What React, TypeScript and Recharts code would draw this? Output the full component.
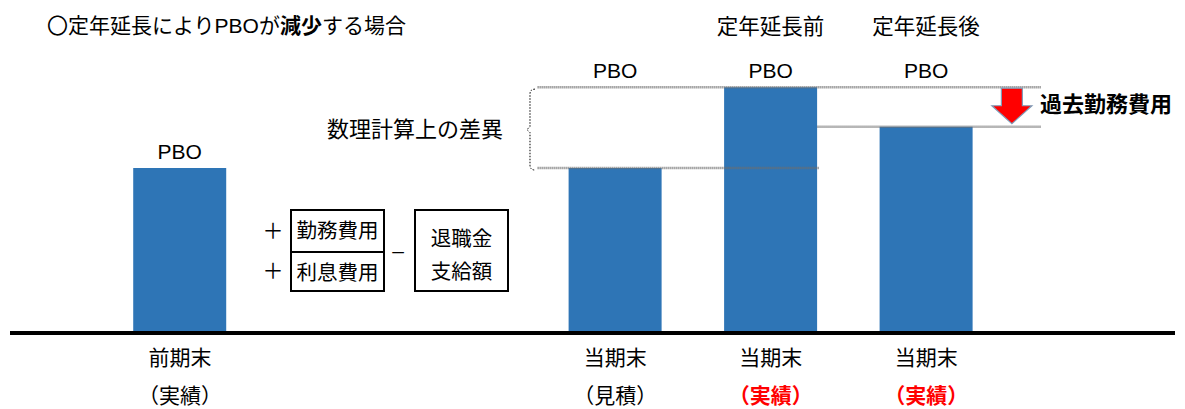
import React from 'react';
import { BarChart, Bar, XAxis, YAxis, LabelList, ReferenceLine } from 'recharts';

// categories (x axis)
const periods = ['前期末', '当期末', '当期末', '当期末'];
const notes = ['（実績）', '（見積）', '（実績）', '（実績）'];
const headers = ['', '', '定年延長前', '定年延長後'];
// numeric x position of each category (gap between 前期末 and 当期末)
const axisPos = [0, 2.8, 3.8, 4.8];
// PBO size (relative units)
const pbo = [100, 100, 149, 125];

const data = periods.map((p, i) => ({ name: p, pos: axisPos[i], pbo: pbo[i] }));

const FONT = '"Liberation Sans", "Noto Sans CJK JP", sans-serif';
const BLUE = '#2E75B6';

const PboLabel = (props: any) => {
  const vb = props.viewBox ?? props;
  const x = vb.x ?? props.x;
  const y = vb.y ?? props.y;
  const width = vb.width ?? props.width;
  const height = vb.height ?? props.height;
  const index = props.index;
  const value = pbo[index];
  const perUnit = height / value;
  const base = y + height;
  const level = index === 0 ? value : Math.max(...pbo.slice(1));
  const ly = base - level * perUnit - 17;
  const cx = x + width / 2;
  return (
    <g fontFamily={FONT}>
      <text x={cx} y={ly} textAnchor="middle" dominantBaseline="central" fontSize={21} fill="#000">PBO</text>
      {headers[index] ? (
        <text x={cx} y={ly - 43} textAnchor="middle" dominantBaseline="central" fontSize={21.5} fill="#000">{headers[index]}</text>
      ) : null}
    </g>
  );
};

const PeriodTick = (props: any) => {
  const { x, y, payload } = props;
  const i = axisPos.indexOf(payload.value);
  if (i < 0) return null;
  const red = headers[i] !== '';
  return (
    <g fontFamily={FONT}>
      <text x={x} y={y + 24} textAnchor="middle" dominantBaseline="central" fontSize={21} fill="#000">{periods[i]}</text>
      <text x={x} y={y + 62} textAnchor="middle" dominantBaseline="central" fontSize={21}
        fill={red ? '#FF0000' : '#000'} fontWeight={red ? 700 : 400}>{notes[i]}</text>
    </g>
  );
};

const Bracket = (props: any) => {
  const { x1, y1, y2 } = props;
  const top = y1 + 2;
  const bot = y2 + 2;
  const mid = (top + bot) / 2;
  const d = `M ${x1 + 5} ${top} Q ${x1} ${top} ${x1} ${top + 5} L ${x1} ${mid - 3} L ${x1 - 3} ${mid} L ${x1} ${mid + 3} L ${x1} ${bot - 5} Q ${x1} ${bot} ${x1 + 5} ${bot}`;
  return (
    <g>
      <path d={d} fill="none" stroke="#000" strokeWidth={1} strokeDasharray="1.5 1.5" />
      <text x={x1 - 27} y={mid} textAnchor="end" dominantBaseline="central" fontSize={22} fontFamily={FONT} fill="#000">数理計算上の差異</text>
    </g>
  );
};

const DownArrow = (props: any) => {
  const { x1, y1, y2 } = props;
  const tip = y2 - 3;
  const neck = tip - 18;
  const pts = [
    [x1 - 10.5, y1 + 1], [x1 + 10.5, y1 + 1], [x1 + 10.5, neck], [x1 + 20, neck],
    [x1, tip], [x1 - 20, neck], [x1 - 10.5, neck],
  ].map((p) => p.join(',')).join(' ');
  return (
    <g>
      <polygon points={pts} fill="#FF0000" stroke="#7F9DB9" strokeWidth={1.2} />
      <text x={x1 + 28} y={(y1 + y2) / 2 - 2} dominantBaseline="central" fontSize={22} fontWeight={700} fontFamily={FONT} fill="#000">過去勤務費用</text>
    </g>
  );
};

const Txt = ({ left, cy, children, size = 21, center = false, width }: any) => (
  <div style={{
    position: 'absolute', left, top: cy - 15, height: 30, lineHeight: '30px', fontSize: size,
    width, textAlign: center ? 'center' : 'left', whiteSpace: 'nowrap',
  }}>{children}</div>
);

export default function App() {
  const gray = { stroke: '#6E6E6E', strokeWidth: 2.5, strokeDasharray: '1 1', ifOverflow: 'visible' as const };
  const arrowX = axisPos[3] + 0.55;
  return (
    <div style={{ position: 'fixed', left: 0, top: 0, width: 1185, height: 409, background: '#fff', fontFamily: FONT, color: '#000' }}>
      <BarChart width={1185} height={409} data={data} margin={{ top: 36, right: 10, bottom: 0, left: 10 }}>
        <XAxis type="number" dataKey="pos" domain={[-1.093, 6.399]} ticks={axisPos} interval={0}
          allowDataOverflow tickSize={0} tickMargin={0} tickLine={false}
          axisLine={{ stroke: '#000', strokeWidth: 4 }} height={76} tick={<PeriodTick />} />
        <YAxis hide domain={[0, 180]} />
        <Bar dataKey="pbo" fill={BLUE} barSize={93} isAnimationActive={false}>
          <LabelList dataKey="pbo" content={<PboLabel />} />
        </Bar>
        <ReferenceLine segment={[{ x: axisPos[1] - 0.5, y: pbo[2] }, { x: axisPos[3] + 0.735, y: pbo[2] }]} {...gray} />
        <ReferenceLine segment={[{ x: axisPos[2] + 0.3, y: pbo[3] }, { x: axisPos[3] + 0.735, y: pbo[3] }]} {...gray} />
        <ReferenceLine segment={[{ x: axisPos[1] - 0.5, y: pbo[1] }, { x: axisPos[2] + 0.31, y: pbo[1] }]} {...gray} />
        <ReferenceLine segment={[{ x: axisPos[1] - 0.549, y: pbo[2] }, { x: axisPos[1] - 0.549, y: pbo[1] }]}
          ifOverflow="visible" shape={<Bracket />} />
        <ReferenceLine segment={[{ x: arrowX, y: pbo[2] }, { x: arrowX, y: pbo[3] }]}
          ifOverflow="visible" shape={<DownArrow />} />
      </BarChart>

      <Txt left={47} cy={26}>〇定年延長によりPBOが<b>減少</b>する場合</Txt>

      <Txt left={262} cy={231} width={22} center>＋</Txt>
      <Txt left={262} cy={271} width={22} center>＋</Txt>
      <Txt left={390} cy={251} width={16} center>–</Txt>

      <div style={{ position: 'absolute', left: 290, top: 209, width: 95, height: 83, border: '2px solid #000', boxSizing: 'border-box' }}>
        <div style={{ height: 40, lineHeight: '40px', fontSize: 20.5, textAlign: 'center', borderBottom: '2px solid #000' }}>勤務費用</div>
        <div style={{ height: 39, lineHeight: '39px', fontSize: 20.5, textAlign: 'center' }}>利息費用</div>
      </div>
      <div style={{ position: 'absolute', left: 414, top: 209, width: 95, height: 83, border: '2px solid #000', boxSizing: 'border-box', fontSize: 20.5, textAlign: 'center', lineHeight: '33px', paddingTop: 11 }}>
        退職金<br />支給額
      </div>
    </div>
  );
}
